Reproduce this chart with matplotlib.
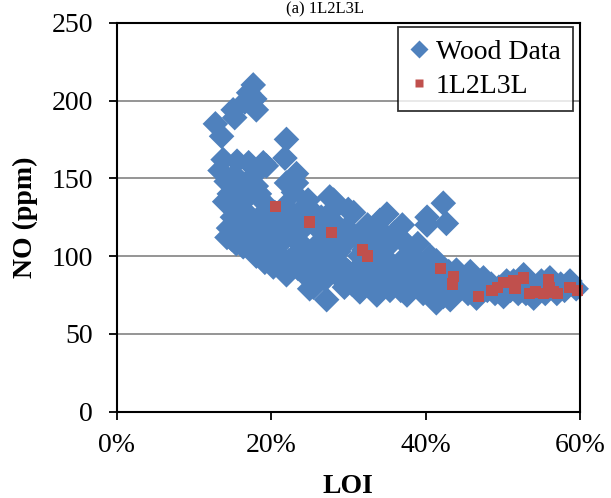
import matplotlib
matplotlib.use("Agg")
import matplotlib.pyplot as plt
from matplotlib.ticker import FuncFormatter
from matplotlib.lines import Line2D

# Wood data: loss on ignition (%) and NO (ppm)
wood_loi = [
    12.8, 13.6, 13.4, 13.8, 14.2, 14.6, 14.0, 14.9, 15.0, 14.5, 14.3, 14.9, 15.5, 15.3, 15.6,
    15.2, 15.8, 16.0, 15.1, 15.3, 16.6, 17.1, 17.7, 17.9, 18.1,
    16.4, 16.4, 16.8, 17.1, 17.0, 17.5, 17.2, 18.1, 18.1, 18.5, 18.8, 19.0, 19.4, 19.0, 19.5,
    19.8, 19.2, 17.8, 16.2, 18.5, 20.0, 20.3, 20.5, 20.8,
    22.0, 21.8, 22.0, 23.3, 23.3, 22.9, 21.5, 21.2, 21.0, 22.0, 22.5, 22.8, 23.0, 23.5, 24.0,
    24.8, 24.2, 24.5, 24.0, 24.8, 25.0, 25.5, 21.8, 23.8, 22.3, 20.8,
    25.5, 26.0, 26.5, 26.0, 26.8, 27.0, 27.2, 27.6, 28.1, 28.1, 28.5, 28.0, 28.8, 29.0, 28.5,
    29.5, 29.8, 30.0, 27.5, 26.5, 29.5, 30.0, 25.8, 27.0,
    30.7, 31.0, 31.5, 31.5, 31.2, 32.0, 32.8, 33.0, 33.7, 33.5, 34.1, 35.0, 34.5, 34.5, 34.0,
    35.0, 35.4, 32.5, 33.0, 35.5, 30.5, 32.0,
    36.0, 36.5, 36.0, 37.1, 37.6, 37.5, 38.0, 38.5, 38.0, 39.0, 39.5, 39.7, 40.0, 36.8, 38.8,
    39.0, 37.0,
    40.2, 40.2, 42.3, 42.7, 40.6, 41.4, 41.0, 41.4, 41.5, 42.0, 42.3, 42.5, 43.2, 43.5, 44.0,
    44.0, 44.5, 45.0, 45.8, 45.5, 40.5, 41.0, 43.0,
    46.6, 47.0, 47.5, 48.0, 48.5, 49.0, 49.5, 50.1, 50.5, 51.0, 51.4, 52.0, 52.7, 53.0, 53.5,
    54.0, 54.5, 55.0, 55.5, 56.1, 56.5, 57.0, 57.5, 58.0, 58.7, 59.5, 50.0, 52.0,
]
wood_no = [
    185, 177, 155, 162, 148, 140, 135, 136, 125, 118, 112, 111, 108, 152, 161,
    130, 120, 115, 194, 189, 199, 205, 210, 201, 194,
    146, 106, 128, 160, 138, 118, 110, 145, 100, 125, 112, 160, 158, 135, 105,
    120, 96, 152, 135, 140, 110, 93, 128, 102,
    175, 163, 147, 153, 147, 141, 118, 108, 96, 88, 125, 112, 100, 92, 130,
    136, 118, 105, 95, 86, 79, 80, 132, 108, 97, 116,
    128, 118, 110, 100, 92, 85, 72, 138, 136, 130, 120, 112, 103, 95, 88,
    80, 118, 130, 98, 125, 108, 90, 90, 105,
    128, 112, 100, 77, 92, 85, 112, 95, 75, 105, 123, 127, 115, 88, 80,
    98, 78, 120, 82, 108, 82, 104,
    92, 85, 115, 110, 75, 100, 90, 82, 105, 95, 85, 76, 92, 78, 98,
    108, 120,
    125, 120, 134, 121, 100, 97, 88, 70, 80, 75, 74, 85, 72, 80, 91,
    78, 85, 82, 90, 76, 80, 94, 90,
    73, 80, 86, 78, 82, 76, 80, 74, 84, 78, 84, 80, 88, 76, 82,
    73, 79, 84, 76, 86, 80, 76, 82, 78, 84, 79, 80, 76,
]

# 1L2L3L series
l123_loi = [20.6, 25.0, 27.8, 31.8, 32.5, 41.9, 43.6, 43.5, 46.9, 48.6, 49.3, 50.1, 51.4,
            51.6, 52.7, 53.5, 54.2, 55.3, 55.9, 56.0, 56.6, 57.1, 58.7, 59.7]
l123_no = [132, 122, 115, 104, 100, 92, 87, 82, 74, 78, 80, 83, 84,
           79, 86, 76, 77, 76, 85, 80, 77, 76, 80, 78]

y_ticks = [0, 50, 100, 150, 200, 250]
x_ticks = [0, 20, 40, 60]

blue = "#4F81BD"
red = "#C0504D"

plt.rcParams["font.family"] = ["Liberation Serif", "DejaVu Serif"]

fig = plt.figure(figsize=(6.11, 4.98), dpi=100)
ax = fig.add_axes([0.1907, 0.1733, 0.7586, 0.7811])

ax.scatter(wood_loi, wood_no, marker="D", s=170, color=blue, edgecolors="none",
           zorder=3, clip_on=False)
ax.scatter(l123_loi, l123_no, marker="s", s=66, color=red, edgecolors="none",
           zorder=4, clip_on=False)

ax.set_xlim(0, 60)
ax.set_ylim(0, 250)
ax.set_xticks(x_ticks)
ax.set_yticks(y_ticks)
ax.xaxis.set_major_formatter(FuncFormatter(lambda v, p: f"{v:.0f}%"))
ax.yaxis.grid(True, color="#8C8C8C", linewidth=1.3, zorder=0)
ax.set_axisbelow(True)

for s in ax.spines.values():
    s.set_linewidth(1.5)
    s.set_color("black")
    s.set_zorder(5)

ax.tick_params(axis="both", direction="out", length=6, width=1.3,
               labelsize=20, colors="black")
ax.tick_params(axis="y", pad=11)
ax.tick_params(axis="x", pad=9)

ax.set_xlabel("LOI", fontsize=20, fontweight="bold", labelpad=12)
ax.set_ylabel("NO (ppm)", fontsize=20, fontweight="bold", labelpad=10)

handles = [
    Line2D([], [], linestyle="none", marker="D", markersize=9, color=blue,
           markeredgecolor="none"),
    Line2D([], [], linestyle="none", marker="s", markersize=6, color=red,
           markeredgecolor="none"),
]
leg = ax.legend(handles, ["Wood Data", "1L2L3L"], loc="upper right",
                bbox_to_anchor=(0.985, 0.989), borderaxespad=0, fontsize=20,
                frameon=True, fancybox=False, edgecolor="black",
                handlelength=0.6, handletextpad=0.3, labelspacing=0.3,
                borderpad=0.45)
leg.get_frame().set_linewidth(1.3)
leg.set_zorder(6)

fig.text(0.532, 0.998, "(a) 1L2L3L", ha="center", va="top", fontsize=12)

fig.savefig("out.png", dpi=100)
